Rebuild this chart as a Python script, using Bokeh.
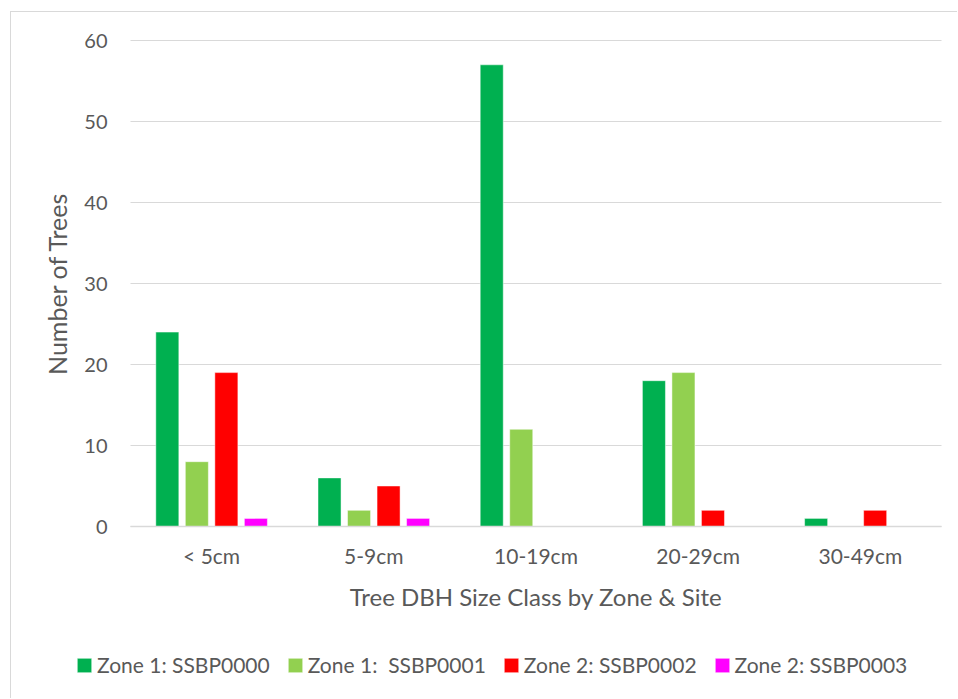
from bokeh.plotting import figure
from bokeh.models import ColumnDataSource, Legend, LegendItem, FixedTicker
from bokeh.transform import dodge
from bokeh.embed import file_html
from bokeh.resources import INLINE

categories = ["< 5cm", "5-9cm", "10-19cm", "20-29cm", "30-49cm"]
series_names = ["Zone 1: SSBP0000", "Zone 1:  SSBP0001", "Zone 2: SSBP0002", "Zone 2: SSBP0003"]
s0 = [24, 6, 57, 18, 1]
s1 = [8, 2, 12, 19, 0]
s2 = [19, 5, 0, 2, 2]
s3 = [1, 1, 0, 0, 0]
colors = ["#00b050", "#92d050", "#ff0000", "#ff00ff"]
y_ticks = [0, 10, 20, 30, 40, 50, 60]

FONT = "Lato"
GREY = "#595959"

idx = list(range(len(categories)))
src = ColumnDataSource(dict(idx=idx, s0=s0, s1=s1, s2=s2, s3=s3))

# frame spans the whole figure; the data area is category -0.5..4.5 and 0..60
p = figure(x_range=(-1.2337, 4.6048), y_range=(-21.358, 63.457),
           width=947, height=687, output_backend="svg", toolbar_location=None,
           min_border_left=0, min_border_right=0, min_border_top=0, min_border_bottom=0)
p.outline_line_color = None
p.styles = {"border-left": "1px solid #d9d9d9", "border-top": "1px solid #d9d9d9",
            "margin-left": "10px", "margin-top": "11px"}
p.xgrid.visible = False
p.ygrid.visible = False

lo, hi = -0.5, len(categories) - 0.5
p.segment(x0=lo, x1=hi, y0=y_ticks, y1=y_ticks, line_color="#d9d9d9", line_width=1)

step = 0.182
bw = 0.142
renderers = []
for i, key in enumerate(["s0", "s1", "s2", "s3"]):
    r = p.vbar(x=dodge("idx", (i - 1.5) * step), top=key, bottom=0, width=bw,
               source=src, fill_color=colors[i], line_color="white", line_alpha=0.6, line_width=0.8)
    renderers.append(r)

xa = p.xaxis[0]
ya = p.yaxis[0]
for ax in [xa, ya]:
    ax.major_tick_line_color = None
    ax.minor_tick_line_color = None
    ax.major_label_text_font = FONT
    ax.major_label_text_color = GREY
    ax.axis_label_text_font = FONT
    ax.axis_label_text_color = GREY
    ax.axis_label_text_font_style = "normal"

ya.fixed_location = lo
ya.bounds = (y_ticks[0], y_ticks[-1])
ya.ticker = FixedTicker(ticks=y_ticks)
ya.axis_line_color = None
ya.axis_label = "Number of Trees"
ya.axis_label_text_font_size = "25px"
ya.major_label_text_font_size = "20px"
ya.major_label_standoff = 17
ya.axis_label_standoff = 9

xa.fixed_location = 0
xa.bounds = (lo, hi)
xa.ticker = FixedTicker(ticks=idx)
xa.major_label_overrides = {i: c for i, c in zip(idx, categories)}
xa.axis_line_color = "#d9d9d9"
xa.axis_line_width = 1.5
xa.axis_label = "Tree DBH Size Class by Zone & Site"
xa.axis_label_text_font_size = "24px"
xa.major_label_text_font_size = "21px"
xa.major_label_standoff = 10
xa.axis_label_standoff = 11

legend = Legend(items=[LegendItem(label=series_names[i], renderers=[renderers[i]]) for i in range(4)],
                orientation="horizontal", location=(64, 22),
                label_text_font=FONT, label_text_font_size="21px", label_text_color=GREY,
                glyph_width=18, glyph_height=18, label_standoff=4, spacing=16,
                padding=0, margin=0, border_line_color=None, background_fill_alpha=0)
p.add_layout(legend, "center")

open("out.html", "w").write(file_html(p, INLINE))
